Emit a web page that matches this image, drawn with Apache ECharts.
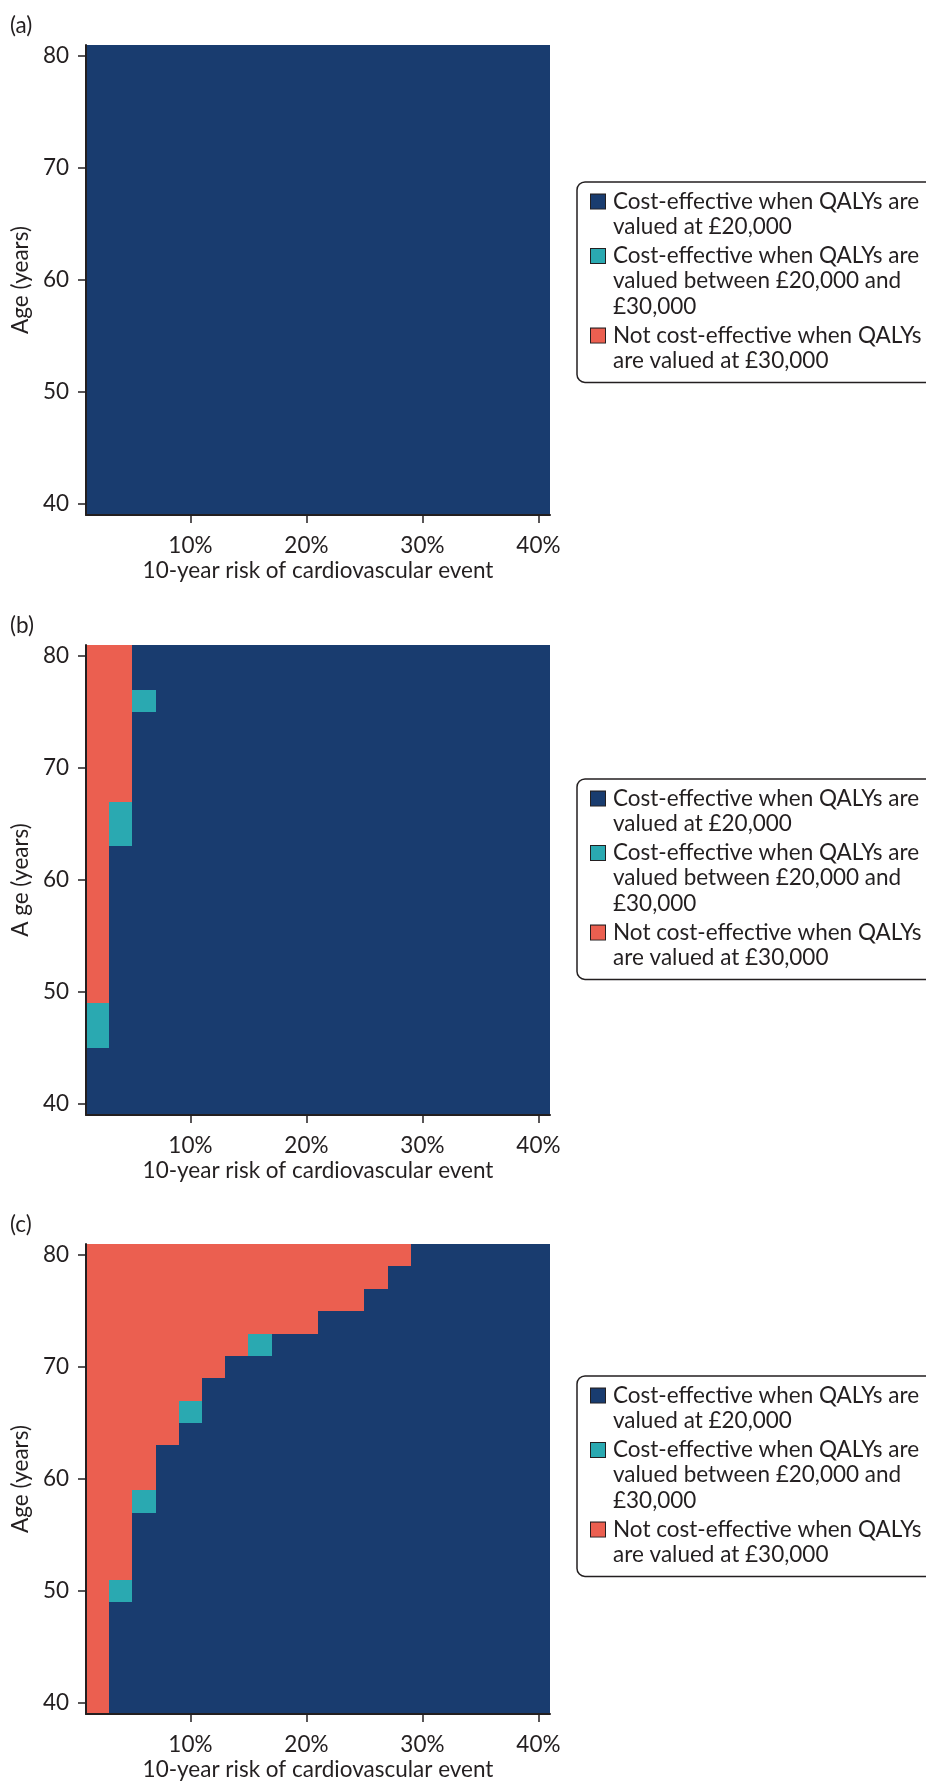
<!DOCTYPE html>
<html><head><meta charset="utf-8">
<script src="https://cdn.jsdelivr.net/npm/echarts@6/dist/echarts.min.js"></script>
<style>html,body{margin:0;padding:0;background:#fff}#c{width:926px;height:1782px}</style>
</head><body><div id="c"></div>
<script>
// ---- data ----
const riskValues = [2,4,6,8,10,12,14,16,18,20,22,24,26,28,30,32,34,36,38,40]; // % (cell centres)
const ageValues = [80,78,76,74,72,70,68,66,64,62,60,58,56,54,52,50,48,46,44,42,40]; // years (rows, top to bottom)
const riskStep = 2;
const ageStep = 2;
const xTicks = [10,20,30,40];
const yTicks = [40,50,60,70,80];
const panelLabels = ['(a)','(b)','(c)'];
const yAxisNames = ['Age (years)','A ge (years)','Age (years)'];
const xAxisName = '10-year risk of cardiovascular event';
const categoryCodes = ['C','T','N'];
const categoryNames = [
  'Cost-effective when QALYs are valued at £20,000',
  'Cost-effective when QALYs are valued between £20,000 and £30,000',
  'Not cost-effective when QALYs are valued at £30,000'
];
const legendLines = [
  ['Cost-effective when QALYs are','valued at £20,000'],
  ['Cost-effective when QALYs are','valued between £20,000 and','£30,000'],
  ['Not cost-effective when QALYs','are valued at £30,000']
];
const categoryColors = ['#193C6F','#2AA9B1','#EB5F50'];
// C = cost-effective at £20,000; T = between £20,000 and £30,000; N = not cost-effective at £30,000
const panelA = [
  'CCCCCCCCCCCCCCCCCCCC','CCCCCCCCCCCCCCCCCCCC','CCCCCCCCCCCCCCCCCCCC','CCCCCCCCCCCCCCCCCCCC',
  'CCCCCCCCCCCCCCCCCCCC','CCCCCCCCCCCCCCCCCCCC','CCCCCCCCCCCCCCCCCCCC','CCCCCCCCCCCCCCCCCCCC',
  'CCCCCCCCCCCCCCCCCCCC','CCCCCCCCCCCCCCCCCCCC','CCCCCCCCCCCCCCCCCCCC','CCCCCCCCCCCCCCCCCCCC',
  'CCCCCCCCCCCCCCCCCCCC','CCCCCCCCCCCCCCCCCCCC','CCCCCCCCCCCCCCCCCCCC','CCCCCCCCCCCCCCCCCCCC',
  'CCCCCCCCCCCCCCCCCCCC','CCCCCCCCCCCCCCCCCCCC','CCCCCCCCCCCCCCCCCCCC','CCCCCCCCCCCCCCCCCCCC',
  'CCCCCCCCCCCCCCCCCCCC'
];
const panelB = [
  'NNCCCCCCCCCCCCCCCCCC', // 80
  'NNCCCCCCCCCCCCCCCCCC', // 78
  'NNTCCCCCCCCCCCCCCCCC', // 76
  'NNCCCCCCCCCCCCCCCCCC', // 74
  'NNCCCCCCCCCCCCCCCCCC', // 72
  'NNCCCCCCCCCCCCCCCCCC', // 70
  'NNCCCCCCCCCCCCCCCCCC', // 68
  'NTCCCCCCCCCCCCCCCCCC', // 66
  'NTCCCCCCCCCCCCCCCCCC', // 64
  'NCCCCCCCCCCCCCCCCCCC', // 62
  'NCCCCCCCCCCCCCCCCCCC', // 60
  'NCCCCCCCCCCCCCCCCCCC', // 58
  'NCCCCCCCCCCCCCCCCCCC', // 56
  'NCCCCCCCCCCCCCCCCCCC', // 54
  'NCCCCCCCCCCCCCCCCCCC', // 52
  'NCCCCCCCCCCCCCCCCCCC', // 50
  'TCCCCCCCCCCCCCCCCCCC', // 48
  'TCCCCCCCCCCCCCCCCCCC', // 46
  'CCCCCCCCCCCCCCCCCCCC', // 44
  'CCCCCCCCCCCCCCCCCCCC', // 42
  'CCCCCCCCCCCCCCCCCCCC'  // 40
];
const panelC = [
  'NNNNNNNNNNNNNNCCCCCC', // 80
  'NNNNNNNNNNNNNCCCCCCC', // 78
  'NNNNNNNNNNNNCCCCCCCC', // 76
  'NNNNNNNNNNCCCCCCCCCC', // 74
  'NNNNNNNTCCCCCCCCCCCC', // 72
  'NNNNNNCCCCCCCCCCCCCC', // 70
  'NNNNNCCCCCCCCCCCCCCC', // 68
  'NNNNTCCCCCCCCCCCCCCC', // 66
  'NNNNCCCCCCCCCCCCCCCC', // 64
  'NNNCCCCCCCCCCCCCCCCC', // 62
  'NNNCCCCCCCCCCCCCCCCC', // 60
  'NNTCCCCCCCCCCCCCCCCC', // 58
  'NNCCCCCCCCCCCCCCCCCC', // 56
  'NNCCCCCCCCCCCCCCCCCC', // 54
  'NNCCCCCCCCCCCCCCCCCC', // 52
  'NTCCCCCCCCCCCCCCCCCC', // 50
  'NCCCCCCCCCCCCCCCCCCC', // 48
  'NCCCCCCCCCCCCCCCCCCC', // 46
  'NCCCCCCCCCCCCCCCCCCC', // 44
  'NCCCCCCCCCCCCCCCCCCC', // 42
  'NCCCCCCCCCCCCCCCCCCC'  // 40
];
const panels = [panelA, panelB, panelC];

// ---- layout / style ----
const gridTops = [45, 645, 1244];
const legendTops = [182, 779, 1376];
const TXT = '#231F20';
const FONT = 'Lato';
const FS = 22.5;
const LH = 25.2;

const chart = echarts.init(document.getElementById('c'), null, {renderer: 'canvas'});

function renderCell(params, api) {
  const x = api.value(0), y = api.value(1);
  const p0 = api.coord([x - riskStep / 2, y + ageStep / 2]);
  const p1 = api.coord([x + riskStep / 2, y - ageStep / 2]);
  const x0 = Math.round(p0[0]), y0 = Math.round(p0[1]);
  const x1 = Math.round(p1[0]), y1 = Math.round(p1[1]);
  return {type: 'rect', shape: {x: x0, y: y0, width: x1 - x0, height: y1 - y0},
          style: {fill: api.visual('color')}};
}

const grids = [], xAxes = [], yAxes = [], series = [], titles = [], legends = [];
const rich = {
  gap: {width: 8},
  ind: {width: 22},
  t: {fontSize: FS, lineHeight: LH, fontFamily: FONT, color: TXT}
};
categoryColors.forEach((c, i) => {
  rich['sq' + i] = {width: 14, height: 14, backgroundColor: c, borderColor: TXT, borderWidth: 1, verticalAlign: 'middle'};
});

panels.forEach((rows, p) => {
  grids.push({left: 86, width: 464, top: gridTops[p], height: 470, containLabel: false});
  xAxes.push({
    type: 'value', gridIndex: p, min: 1, max: 41, z: 10,
    name: xAxisName, nameLocation: 'middle', nameGap: 44,
    nameTextStyle: {fontSize: FS, fontFamily: FONT, color: TXT},
    axisLine: {show: true, onZero: false, lineStyle: {color: TXT, width: 2}},
    axisTick: {show: true, length: 8, customValues: xTicks, lineStyle: {color: TXT, width: 1.5}},
    axisLabel: {show: true, customValues: xTicks, formatter: v => v + '%', margin: 19,
                fontSize: FS, fontFamily: FONT, color: TXT},
    splitLine: {show: false}
  });
  yAxes.push({
    type: 'value', gridIndex: p, min: 39, max: 81, z: 10,
    name: yAxisNames[p], nameLocation: 'middle', nameGap: 53, nameRotate: 90,
    nameTextStyle: {fontSize: FS, fontFamily: FONT, color: TXT},
    axisLine: {show: true, onZero: false, lineStyle: {color: TXT, width: 2}},
    axisTick: {show: true, length: 8, customValues: yTicks, lineStyle: {color: TXT, width: 1.5}},
    axisLabel: {show: true, customValues: yTicks, margin: 17,
                fontSize: FS, fontFamily: FONT, color: TXT},
    splitLine: {show: false}
  });
  categoryCodes.forEach((code, ci) => {
    const data = [];
    rows.forEach((row, r) => {
      for (let k = 0; k < row.length; k++) {
        if (row[k] === code) data.push([riskValues[k], ageValues[r]]);
      }
    });
    series.push({
      type: 'custom', name: categoryNames[ci], xAxisIndex: p, yAxisIndex: p,
      renderItem: renderCell, data: data, itemStyle: {color: categoryColors[ci]},
      encode: {x: 0, y: 1}, silent: true, animation: false
    });
  });
  titles.push({text: panelLabels[p], left: 10, top: gridTops[p] - 31, padding: 0,
               textStyle: {fontSize: FS, fontWeight: 'normal', fontFamily: FONT, color: TXT}});
  legends.push({
    show: true, orient: 'vertical', left: 577, top: legendTops[p],
    data: categoryNames, selectedMode: false,
    itemWidth: 0, itemHeight: 0, itemGap: 4, icon: 'rect',
    itemStyle: {opacity: 0, borderWidth: 0},
    padding: [7, 14, 9, 9],
    borderColor: TXT, borderWidth: 1.5, borderRadius: 8,
    formatter: name => {
      const i = categoryNames.indexOf(name);
      return legendLines[i].map((l, j) => (j === 0 ? '{sq' + i + '|}{gap|}' : '{ind|}') + '{t|' + l + '}').join('\n');
    },
    textStyle: {fontSize: FS, lineHeight: LH, fontFamily: FONT, color: TXT, rich: rich}
  });
});

chart.setOption({
  animation: false,
  backgroundColor: '#ffffff',
  title: titles,
  legend: legends,
  grid: grids,
  xAxis: xAxes,
  yAxis: yAxes,
  series: series
});
</script>
</body></html>
